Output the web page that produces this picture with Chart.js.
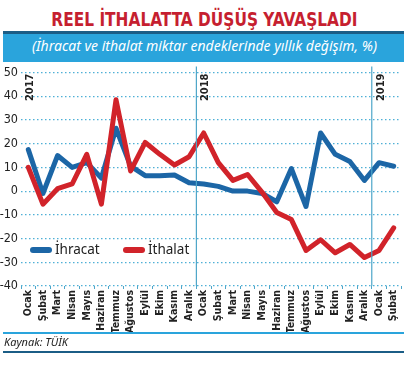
<!DOCTYPE html>
<html lang="tr">
<head>
  <meta charset="UTF-8" />
  <title>Reel ithalatta düşüş yavaşladı</title>
  <script src="https://cdn.jsdelivr.net/npm/chart.js"></script>
  <style>
    body { margin: 0; background: #fff; }
    #wrap { position: relative; width: 409px; height: 367px; overflow: hidden; font-family: "Noto Sans", sans-serif; }
    #title { position: absolute; top: 7px; left: 0; width: 409px; text-align: center; color: #c61f30;
      font-family: "Liberation Sans Narrow", "DejaVu Sans Condensed", sans-serif; font-weight: bold; font-size: 19px; line-height: 24px;
      transform: scaleX(0.9); transform-origin: 204px 0; }
    #band { position: absolute; top: 31px; left: 3px; width: 401px; height: 31px; background: #2aa4dc; border-top: 3px solid #1b5d86; box-sizing: border-box; }
    #sub { position: absolute; top: 35px; left: 0; width: 409px; text-align: center; color: #fff; font-style: italic; font-size: 14px; line-height: 22px; }
    #chartBox { position: absolute; top: 62px; left: 0; width: 409px; height: 272px; }
    .leg { position: absolute; top: 240px; font-size: 13.5px; color: #222; line-height: 18px; }
    .leg i { display: inline-block; width: 22px; height: 6px; border-radius: 3px; vertical-align: middle; margin-right: 3px; }
    #line1 { position: absolute; top: 332px; left: 3px; width: 401px; height: 2px; background: #2aa4dc; }
    #src { position: absolute; top: 335px; left: 4px; font-style: italic; font-size: 11px; color: #222; line-height: 14px; }
    #line2 { position: absolute; top: 351px; left: 3px; width: 401px; height: 2px; background: #1b5d86; }
  </style>
</head>
<body>
  <div id="wrap">
    <div id="title">REEL İTHALATTA DÜŞÜŞ YAVAŞLADI</div>
    <div id="band"></div>
    <div id="sub">(İhracat ve ithalat miktar endeklerinde yıllık değişim, %)</div>
    <div id="chartBox"><canvas id="chart"></canvas></div>
    <div class="leg" style="left:30px"><i style="background:#1c66a6"></i>İhracat</div>
    <div class="leg" style="left:123px"><i style="background:#d1232a"></i>İthalat</div>
    <div id="line1"></div>
    <div id="src">Kaynak: TÜİK</div>
    <div id="line2"></div>
  </div>

  <script>
    const months = ['Ocak', 'Şubat', 'Mart', 'Nisan', 'Mayıs', 'Haziran', 'Temmuz', 'Ağustos', 'Eylül', 'Ekim', 'Kasım', 'Aralık',
      'Ocak', 'Şubat', 'Mart', 'Nisan', 'Mayıs', 'Haziran', 'Temmuz', 'Ağustos', 'Eylül', 'Ekim', 'Kasım', 'Aralık',
      'Ocak', 'Şubat'];
    const ihracat = [17.5, -1, 15, 10, 12, 5.5, 26.5, 10.5, 6.5, 6.5, 6.8, 3.5, 3, 2, 0, 0, -1, -4.5, 9.5, -6.5, 24.5, 15.5, 12.5, 4.5, 12, 10.5];
    const ithalat = [10, -5.5, 1, 3, 15.5, -5.5, 38.5, 8.5, 20.5, 15.5, 11, 14.5, 24.5, 12, 4.5, 7, -0.5, -9, -12, -25, -20.5, -26, -22.5, -28, -25, -15.5];
    const years = [{ label: '2017', index: 0 }, { label: '2018', index: 12 }, { label: '2019', index: 24 }];

    const condensed = '"Liberation Sans Narrow", "DejaVu Sans Condensed", sans-serif';

    // year separators and rotated year labels
    const yearMarks = {
      id: 'yearMarks',
      afterDatasetsDraw(chart) {
        const { ctx, chartArea, scales } = chart;
        const x = scales.x;
        const step = x.getPixelForValue(1) - x.getPixelForValue(0);
        ctx.save();
        years.forEach(y => {
          const bx = x.getPixelForValue(y.index) - step / 2;
          if (y.index > 0) {
            ctx.strokeStyle = '#4ea6c9';
            ctx.lineWidth = 1.2;
            ctx.beginPath();
            ctx.moveTo(bx, chartArea.top - 6);
            ctx.lineTo(bx, chartArea.bottom);
            ctx.stroke();
          }
          ctx.save();
          ctx.translate(bx + 9, chartArea.top + 1);
          ctx.rotate(-Math.PI / 2);
          ctx.fillStyle = '#222';
          ctx.font = 'bold 11px ' + condensed;
          ctx.textAlign = 'right';
          ctx.textBaseline = 'middle';
          ctx.fillText(y.label, 0, 0);
          ctx.restore();
        });
        ctx.restore();
      }
    };

    new Chart(document.getElementById('chart'), {
      type: 'line',
      data: {
        labels: months,
        datasets: [{
          label: 'İhracat',
          data: ihracat,
          borderColor: '#1c66a6',
          order: 1
        }, {
          label: 'İthalat',
          data: ithalat,
          borderColor: '#d1232a',
          order: 0
        }]
      },
      options: {
        responsive: true,
        maintainAspectRatio: false,
        animation: false,
        layout: { padding: { top: 7, right: 8, left: 0, bottom: 0 } },
        elements: {
          line: { borderWidth: 5, tension: 0, borderJoinStyle: 'round', borderCapStyle: 'round' },
          point: { radius: 0 }
        },
        plugins: { legend: { display: false }, tooltip: { enabled: false } },
        scales: {
          x: {
            offset: true,
            afterFit: s => { s.height = 48; },
            border: { display: false },
            grid: { offset: true, drawOnChartArea: false, drawTicks: true, tickLength: 3, tickColor: '#4ea6c9' },
            ticks: {
              autoSkip: false, maxRotation: 90, minRotation: 90, padding: 1,
              color: '#222', font: { family: condensed, size: 10.5, weight: 'bold' }
            }
          },
          y: {
            min: -40, max: 50,
            afterFit: s => { s.width = 21; },
            border: { display: false, dash: [1.5, 2.5] },
            grid: { color: '#4fb0d6', lineWidth: 1.2, drawTicks: false },
            ticks: {
              stepSize: 10, padding: 3,
              color: '#222', font: { family: condensed, size: 12.5 }
            }
          }
        }
      },
      plugins: [yearMarks]
    });
  </script>
</body>
</html>
